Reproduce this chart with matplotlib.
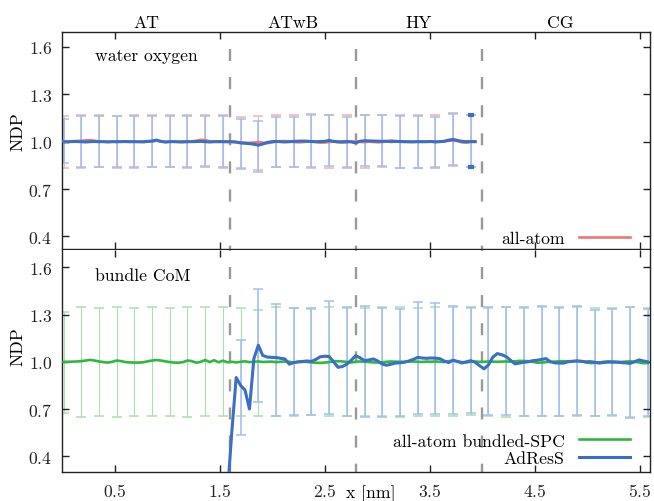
import numpy as np
import matplotlib.pyplot as plt

plt.rcParams['font.family'] = 'cmr10'
plt.rcParams['axes.formatter.use_mathtext'] = True
plt.rcParams['font.size'] = 12.7

# bin grid (nm), error bars on every 4th bin
dx = 0.04215
x = 0.015 + dx * np.arange(133)

regions = ['AT', 'ATwB', 'HY', 'CG']
region_bounds = [0.0, 1.6, 2.8, 4.0, 5.5]

# --- water oxygen (top panel), bins 0..93
water_aa = [1.000, 1.002, 1.003, 1.004, 1.006, 1.008, 1.010, 1.006, 1.002, 1.000,
            0.998, 1.000, 0.999, 1.001, 1.000, 0.999, 1.000, 1.001, 0.997, 1.000,
            1.002, 1.006, 1.001, 0.998, 1.000, 1.001, 0.999, 0.996, 1.000, 1.002,
            1.006, 1.012, 1.010, 1.003, 1.000, 0.998, 1.000, 1.002, 0.999, 0.996,
            0.995, 0.993, 0.992, 0.995, 0.998, 0.994, 0.990, 0.995, 1.000, 1.003,
            1.004, 1.002, 0.998, 0.996, 0.997, 1.000, 1.002, 0.998, 0.994, 0.995,
            0.998, 1.000, 0.996, 0.994, 0.996, 1.000, 1.002, 0.999, 0.997, 1.000,
            0.998, 0.996, 0.998, 1.002, 1.008, 1.004, 0.999, 1.000, 0.998, 0.999,
            1.000, 0.999, 1.000, 1.001, 0.998, 1.000, 1.002, 1.005, 1.008, 1.003,
            0.996, 0.994, 0.998, 1.000]
water_adress = [1.000, 0.999, 1.001, 1.001, 1.000, 0.998, 1.000, 1.001, 1.000, 1.000,
                0.999, 1.000, 1.000, 1.000, 1.001, 1.000, 1.000, 0.999, 1.000, 1.002,
                1.004, 1.010, 1.002, 0.998, 1.000, 1.000, 0.999, 1.000, 1.000, 1.000,
                1.001, 1.002, 1.000, 0.998, 1.000, 1.001, 1.000, 0.999, 1.000, 0.998,
                0.992, 0.990, 0.988, 0.984, 0.978, 0.985, 0.995, 1.000, 1.002, 1.000,
                0.998, 1.000, 1.002, 1.003, 1.004, 1.003, 1.001, 1.000, 1.001, 1.002,
                1.008, 1.002, 1.000, 1.000, 1.001, 0.999, 0.992, 1.003, 1.006, 1.005,
                1.004, 1.003, 1.002, 1.003, 1.000, 1.002, 1.001, 1.000, 1.000, 0.999,
                1.000, 1.000, 1.000, 1.001, 0.999, 1.000, 1.003, 1.010, 1.014, 1.008,
                1.002, 1.000, 1.001, 1.000]
water_aa_top = [1.160, 1.168, 1.166, 1.165, 1.168, 1.168, 1.166, 1.166, 1.170, 1.166, 1.158, 1.160,
                1.166, 1.166, 1.170, 1.172, 1.166, 1.168, 1.170, 1.166, 1.166, 1.166, 1.178, 1.172]
water_aa_bot = [0.836, 0.836, 0.838, 0.836, 0.834, 0.838, 0.838, 0.832, 0.848, 0.835, 0.832, 0.822,
                0.838, 0.840, 0.836, 0.836, 0.838, 0.835, 0.840, 0.835, 0.835, 0.838, 0.845, 0.842]
water_adress_top = [1.142, 1.163, 1.163, 1.160, 1.163, 1.163, 1.163, 1.163, 1.163, 1.163, 1.146, 1.132,
                    1.159, 1.159, 1.174, 1.170, 1.159, 1.170, 1.170, 1.163, 1.163, 1.159, 1.184, 1.168]
water_adress_bot = [0.864, 0.840, 0.840, 0.840, 0.840, 0.840, 0.840, 0.840, 0.840, 0.840, 0.826, 0.811,
                    0.840, 0.838, 0.842, 0.847, 0.836, 0.843, 0.843, 0.836, 0.836, 0.836, 0.852, 0.837]

# --- bundle CoM (bottom panel)
bundle_aa = [1.000, 1.000, 1.001, 1.002, 1.004, 1.008, 1.012, 1.008, 1.002, 0.998,
             0.995, 1.000, 1.008, 1.004, 0.998, 0.996, 0.995, 0.995, 0.997, 1.003,
             1.008, 1.011, 1.008, 1.003, 0.998, 0.995, 0.994, 0.998, 1.008, 1.004,
             0.994, 1.000, 1.011, 0.998, 1.010, 0.997, 1.007, 0.997, 1.000, 0.996,
             1.000, 1.003, 0.998, 1.000, 1.002, 0.999, 1.000, 1.001, 0.998, 1.000,
             1.002, 1.000, 0.996, 0.998, 1.000, 0.999, 0.996, 0.994, 0.993, 0.995,
             0.998, 1.002, 1.004, 1.002, 0.999, 0.996, 1.000, 1.002, 1.000, 0.998,
             0.996, 0.995, 0.997, 1.000, 1.002, 1.001, 1.000, 1.000, 1.001, 1.002,
             1.000, 0.999, 1.001, 1.000, 1.002, 1.000, 0.998, 1.004, 1.008, 1.002,
             0.998, 0.996, 1.000, 1.001, 1.000, 1.000, 1.002, 1.001, 1.000, 1.001,
             1.002, 1.000, 1.003, 1.006, 1.005, 1.004, 1.000, 0.994, 0.995, 0.998,
             1.000, 1.001, 1.003, 1.004, 1.003, 1.004, 1.006, 1.003, 0.996, 0.992,
             0.993, 0.996, 1.000, 1.002, 1.002, 1.000, 0.999, 1.001, 1.003, 1.000,
             0.996, 0.991, 0.992]
bundle_aa_top = [1.314, 1.346, 1.342, 1.346, 1.342, 1.346, 1.342, 1.346, 1.346, 1.346, 1.339, 1.330,
                 1.346, 1.340, 1.338, 1.345, 1.342, 1.340, 1.350, 1.345, 1.344, 1.346, 1.345, 1.343,
                 1.342, 1.348, 1.342, 1.345, 1.342, 1.348, 1.340, 1.342, 1.348, 1.340]
bundle_aa_bot = [0.676, 0.651, 0.655, 0.651, 0.655, 0.655, 0.658, 0.651, 0.655, 0.655, 0.655, 0.657,
                 0.656, 0.655, 0.660, 0.655, 0.654, 0.655, 0.658, 0.652, 0.655, 0.655, 0.655, 0.660,
                 0.655, 0.652, 0.658, 0.655, 0.654, 0.655, 0.655, 0.655, 0.652, 0.650]

# AdResS bundles start at bin 37
bundle_adress_start = 37
bundle_adress = [0.15, 0.55, 0.90, 0.85, 0.82, 0.70, 1.02, 1.105, 1.04,
                 1.030, 1.028, 1.027, 1.022, 1.018, 0.985, 0.995, 1.000, 1.002, 1.005,
                 1.002, 1.015, 1.032, 1.035, 1.034, 1.000, 0.965, 0.970, 0.985, 1.010,
                 1.039, 1.025, 1.007, 1.012, 1.018, 1.005, 0.986, 0.978, 0.985, 0.992,
                 0.994, 0.997, 1.005, 1.015, 1.028, 1.024, 1.022, 1.024, 1.023, 1.020,
                 1.005, 0.995, 1.010, 1.002, 0.992, 1.000, 1.007, 0.997, 0.975, 0.955,
                 0.980, 1.030, 1.052, 1.045, 1.033, 1.010, 0.987, 0.992, 0.997, 1.000,
                 1.007, 1.010, 1.015, 1.020, 1.000, 0.993, 0.992, 0.992, 1.000, 1.003,
                 1.005, 1.003, 1.000, 1.001, 0.997, 0.992, 0.995, 0.998, 0.997, 0.997,
                 0.995, 0.993, 0.990, 1.000, 1.012, 1.005, 1.000]
bundle_adress_top = [1.138, 1.462, 1.367, 1.340, 1.340, 1.388, 1.346, 1.356, 1.341, 1.337, 1.382, 1.373,
                     1.356, 1.346, 1.346, 1.346, 1.346, 1.356, 1.346, 1.356, 1.330, 1.335, 1.346, 1.335]
bundle_adress_bot = [0.535, 0.743, 0.658, 0.660, 0.660, 0.669, 0.653, 0.648, 0.648, 0.655, 0.669, 0.669,
                     0.669, 0.673, 0.665, 0.665, 0.658, 0.658, 0.658, 0.665, 0.658, 0.662, 0.640, 0.655]

red = '#f07575'
green = '#2fb83f'
blue = '#3a6fc4'
red_light = '#f4b0b0'
green_light = '#a8e0ae'
blue_light = '#a6c0ec'
dash_grey = '#999999'


def errbars(ax, idx, yline, tops, bots, color, z, lw):
    yc = np.asarray(yline)
    err = [yc - np.asarray(bots), np.asarray(tops) - yc]
    ax.errorbar(x[idx], yc, yerr=err, fmt='none', ecolor=color,
                elinewidth=lw, capsize=3.5, capthick=1.1, zorder=z)


def style(ax, ylim):
    ax.set_xlim(0, 5.6)
    ax.set_ylim(*ylim)
    ax.set_xticks([0.5, 1.5, 2.5, 3.5, 4.5, 5.5])
    ax.set_yticks([0.4, 0.7, 1.0, 1.3, 1.6])
    ax.tick_params(direction='in', top=True, right=True, length=5, width=1,
                   pad=7, colors='#222222', labelcolor='#222222')
    for s in ax.spines.values():
        s.set_color('#222222')
        s.set_linewidth(1.0)
    for b in region_bounds[1:4]:
        ax.plot([b, b], [1, 0], transform=ax.get_xaxis_transform(), color=dash_grey,
                lw=1.7, ls=(4.7, (5.1, 6.8)), zorder=2)
    ax.set_ylabel('NDP')


fig = plt.figure(figsize=(6.54, 5.02), dpi=100)
ax1 = fig.add_axes([62 / 654, 1 - 250 / 502, 588 / 654, 217 / 502])
ax2 = fig.add_axes([62 / 654, 1 - 473 / 502, 588 / 654, 222 / 502])

# top panel
n_top = len(water_aa)
idx_top = np.arange(0, n_top, 4)
errbars(ax1, idx_top, np.array(water_aa)[idx_top], water_aa_top, water_aa_bot, red_light, 1, 0.8)
errbars(ax1, idx_top, np.array(water_adress)[idx_top], water_adress_top, water_adress_bot,
        blue_light, 1.5, 1.2)
ax1.plot([x[idx_top[-1]]] * 2, [water_adress_top[-1], water_adress_bot[-1]], ls='none',
         marker='_', ms=5, mew=3, color=blue, zorder=3)
ax1.plot(x[:n_top], water_aa, color=red, lw=1.9, zorder=3, label='all-atom')
ax1.plot(x[:n_top], water_adress, color=blue, lw=2.2, zorder=4)
style(ax1, (0.32, 1.695))
ax1.tick_params(labelbottom=False)
ax1.text(0.31, 1.55, 'water oxygen', va='center', ha='left')
for name, a, b in zip(regions, region_bounds[:-1], region_bounds[1:]):
    ax1.text((a + b) / 2, 1.046, name, transform=ax1.get_xaxis_transform(),
             ha='center', va='center')
ax1.legend(loc='lower right', bbox_to_anchor=(0.966, 0.015), frameon=False,
           markerfirst=False, handlelength=2.9, handletextpad=0.8,
           borderaxespad=0, borderpad=0)
ax1.yaxis.set_label_coords(-0.063, 0.544)

# bottom panel
idx_aa = np.arange(0, len(bundle_aa), 4)
idx_ad = np.arange(40, len(bundle_aa), 4)
x_ad = x[bundle_adress_start:bundle_adress_start + len(bundle_adress)]
ad = np.array(bundle_adress)
errbars(ax2, idx_aa, np.array(bundle_aa)[idx_aa], bundle_aa_top, bundle_aa_bot, green_light, 1, 0.8)
errbars(ax2, idx_ad, ad[idx_ad - bundle_adress_start], bundle_adress_top, bundle_adress_bot,
        blue_light, 1.5, 1.2)
ax2.plot(x, bundle_aa, color=green, lw=1.9, zorder=3, label='all-atom bundled-SPC')
ax2.plot(x_ad, ad, color=blue, lw=2.2, zorder=4, label='AdResS')
style(ax2, (0.30, 1.71))
ax2.spines['top'].set_visible(False)
ax2.text(0.31, 1.55, 'bundle CoM', va='center', ha='left')
ax2.text(2.94, -0.095, 'x [nm]', transform=ax2.get_xaxis_transform(), ha='center', va='center')
ax2.legend(loc='lower right', bbox_to_anchor=(0.966, 0.028), frameon=False,
           markerfirst=False, handlelength=2.9, handletextpad=0.8, labelspacing=0.1,
           borderaxespad=0, borderpad=0)
ax2.yaxis.set_label_coords(-0.063, 0.569)

fig.savefig('out.png', dpi=100)
